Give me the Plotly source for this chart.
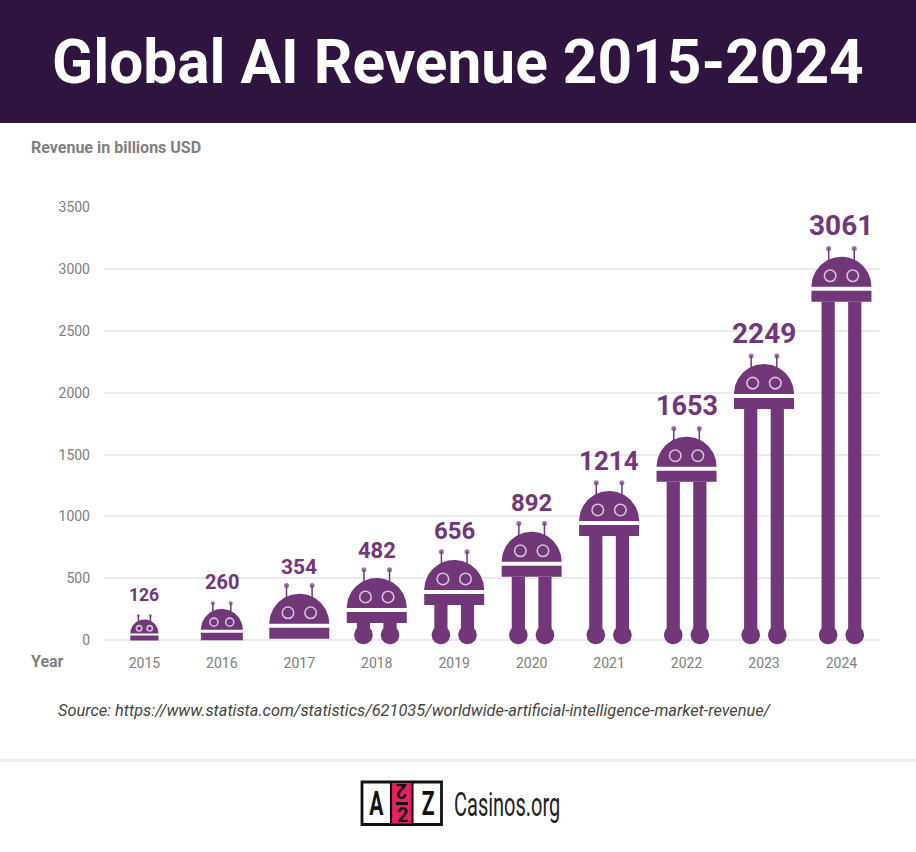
import numpy as np
import plotly.graph_objects as go

# ---- data ----
years = ["2015", "2016", "2017", "2018", "2019", "2020", "2021", "2022", "2023", "2024"]
revenue = [126, 260, 354, 482, 656, 892, 1214, 1653, 2249, 3061]
y_ticks = [0, 500, 1000, 1500, 2000, 2500, 3000, 3500]

# ---- style ----
PURPLE = "#713779"
BAND = "#2f1440"
GRAY = "#808080"
GRID = "#ebebee"
W, H = 916, 852
FONT = "Roboto"
robot_scale = [0.47, 0.70, 1, 1, 1, 1, 1, 1, 1, 1]
label_size = [17.5, 20, 21, 22, 24, 24, 26, 27, 28, 28]
top_nudge_px = [5, -1, 2.5, 2.5, -1, -2, -1, -1, -2, 5]

# axis geometry (window pixels)
PLOT_L, PLOT_R = 104, 880
Y0_PX, Y3500_PX = 640, 207.5
PX_PER_UNIT = (Y0_PX - Y3500_PX) / 3500
X0_PX, X_STEP = 144.4, 77.45
Y_LOW = -60
PLOT_B = Y0_PX - Y_LOW * PX_PER_UNIT


def dy(px):
    return px / PX_PER_UNIT


def dx(px):
    return px / X_STEP


def add_poly(xs, ys, px, py):
    xs.extend(list(px) + [None])
    ys.extend(list(py) + [None])


dome_x, dome_y, col_x, col_y, leg_x, leg_y, foot_x, foot_y = ([] for _ in range(8))
ant_x, ant_y, ball_x, ball_y, ball_s, eye_x, eye_y, eye_s = ([] for _ in range(8))
annotations = []
theta = np.linspace(0, np.pi, 61)
circ = np.linspace(0, 2 * np.pi, 49)

for i, (val, s) in enumerate(zip(revenue, robot_scale)):
    top = val + dy(top_nudge_px[i])
    r = 30 * s
    dome_base = top - dy(r)
    cx = i
    add_poly(dome_x, dome_y, cx + dx(r) * np.cos(theta), dome_base + dy(r) * np.sin(theta))
    col_top = dome_base - dy(4 * s)
    col_bot = top - dy(45 * s)
    hw = dx(r)
    add_poly(col_x, col_y, [cx - hw, cx + hw, cx + hw, cx - hw], [col_top, col_top, col_bot, col_bot])
    if col_bot > dy(5):
        foot_c = dy(5)
        for side in (-1, 1):
            fx = cx + side * dx(13.3)
            lw = dx(6.6)
            add_poly(leg_x, leg_y, [fx - lw, fx + lw, fx + lw, fx - lw], [col_bot, col_bot, foot_c, foot_c])
            add_poly(foot_x, foot_y, fx + dx(9.3) * np.cos(circ), foot_c + dy(9.3) * np.sin(circ))
    for side in (-1, 1):
        ax = cx + side * dx(12.8 * s)
        ball = top + dy(8.2 * s)
        ant_x += [ax, ax, None]
        ant_y += [top - dy(5 * s), ball, None]
        ball_x.append(ax)
        ball_y.append(ball)
        ball_s.append(1 + 4 * s)
        eye_x.append(cx + side * dx(11.3 * s))
        eye_y.append(dome_base + dy(11 * s))
        eye_s.append(11.5 * s)
    annotations.append(dict(
        x=i, y=top, xref="x", yref="y", text=str(val), showarrow=False,
        yanchor="bottom", xanchor="center", yshift=12.5,
        font=dict(family=FONT, size=label_size[i], color=PURPLE, weight=700),
    ))

fig = go.Figure()


def fill_trace(x, y, name):
    fig.add_trace(go.Scatter(x=x, y=y, mode="lines", fill="toself", fillcolor=PURPLE,
                             line=dict(width=0, color=PURPLE), name=name, hoverinfo="skip",
                             cliponaxis=False))


fill_trace(dome_x, dome_y, "head")
fill_trace(col_x, col_y, "collar")
fill_trace(leg_x, leg_y, "legs")
fill_trace(foot_x, foot_y, "feet")
fig.add_trace(go.Scatter(x=ant_x, y=ant_y, mode="lines", line=dict(color=PURPLE, width=1.5),
                         hoverinfo="skip", cliponaxis=False))
fig.add_trace(go.Scatter(x=ball_x, y=ball_y, mode="markers", hoverinfo="skip", cliponaxis=False,
                         marker=dict(color=PURPLE, size=ball_s, line=dict(width=0))))
fig.add_trace(go.Scatter(x=eye_x, y=eye_y, mode="markers", hoverinfo="skip", cliponaxis=False,
                         marker=dict(color=PURPLE, size=eye_s, line=dict(color="white", width=1.6))))


def px_x(p):
    return p / W


def px_y(p):
    return 1 - p / H


def rect(x0, y0, x1, y1, fill, line=None, lw=0):
    return dict(type="rect", xref="paper", yref="paper", layer="above",
                x0=px_x(x0), x1=px_x(x1), y0=px_y(y0), y1=px_y(y1),
                fillcolor=fill, line=dict(color=line or fill, width=lw))


shapes = [
    rect(0, 0, W, 123, BAND),
    rect(0, 759, W, 762, "#eeeeee"),
    rect(362, 782, 441.5, 824.5, "white", "#111111", 2.8),
    rect(391, 782, 412.5, 824.5, "#e8205f", "#111111", 2.2),
    rect(396, 802, 408, 805, "#111111"),
]


def label(x, y, text, size, color, family=FONT, xanchor="left", weight=400, style="normal", textangle=0):
    return dict(x=px_x(x), y=px_y(y), xref="paper", yref="paper", text=text, showarrow=False,
                xanchor=xanchor, yanchor="middle", textangle=textangle,
                font=dict(family=family, size=size, color=color, weight=weight, style=style))


annotations += [
    label(458, 62, "Global AI Revenue 2015-2024", 60.4, "white", xanchor="center", weight=700),
    label(29, 147, "Revenue in billions USD", 16, GRAY, weight=700),
    label(29, 661, "Year", 16, GRAY, weight=700),
    label(56, 710, "Source: https://www.statista.com/statistics/621035/worldwide-artificial-intelligence-market-revenue/",
          16.35, "#444444", style="italic"),
    label(376.2, 803, "A", 33.5, "#111111", xanchor="center", weight=700),
    label(428, 803, "Z", 33.5, "#111111", xanchor="center", weight=700),
    label(402, 815, "2", 20, "#111111", xanchor="center", weight=700),
    label(402, 791, "2", 20, "#111111", xanchor="center", weight=700, textangle=180),
    label(452, 804, "Casinos.org", 33, "#222222"),
]

fig.update_layout(
    width=W, height=H, autosize=False,
    margin=dict(l=0, r=0, t=0, b=0, pad=0, autoexpand=False),
    paper_bgcolor="white", plot_bgcolor="white",
    showlegend=False, hovermode=False,
    shapes=shapes, annotations=annotations,
    font=dict(family=FONT, color=GRAY),
    xaxis=dict(domain=[PLOT_L / W, PLOT_R / W],
               range=[(PLOT_L - X0_PX) / X_STEP, (PLOT_R - X0_PX) / X_STEP],
               tickmode="array", tickvals=list(range(len(years))), ticktext=years,
               showgrid=False, zeroline=False, showline=False, ticks="",
               tickfont=dict(size=14, color=GRAY, family=FONT), ticklabelstandoff=6),
    yaxis=dict(domain=[1 - PLOT_B / H, 1 - Y3500_PX / H], range=[Y_LOW, 3500],
               tickmode="array", tickvals=y_ticks,
               showgrid=True, gridcolor=GRID, gridwidth=1.5, zeroline=False, showline=False, ticks="",
               tickfont=dict(size=14, color=GRAY, family=FONT), ticklabelstandoff=13),
)

post = """
document.documentElement.style.margin='0';document.body.style.margin='0';
var squeeze={'Casinos.org':[0.606,0],'A':[0.63,0.5],'Z':[0.63,0.5]};
document.querySelectorAll('.annotation-text').forEach(function(t){
  var c=squeeze[t.textContent];
  if(c){
    var b=t.getBBox();
    var x0=b.x+b.width*c[1];
    t.setAttribute('transform','translate('+x0+',0) scale('+c[0]+',1) translate('+(-x0)+',0)');
  }
});
"""
fig.write_html("out.html", config={"displayModeBar": False}, post_script=post)
